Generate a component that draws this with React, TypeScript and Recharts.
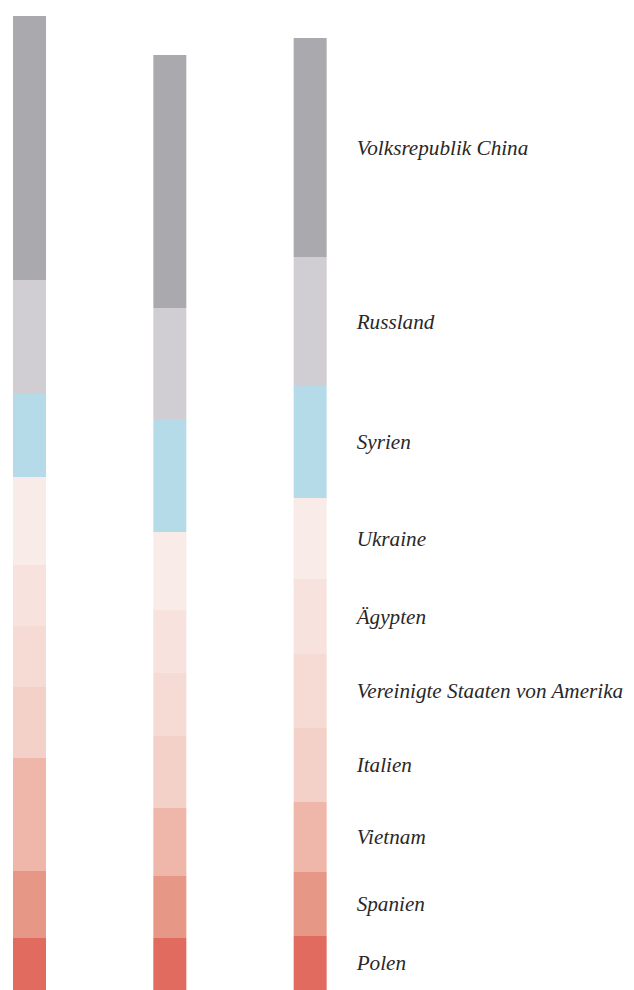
import React from "react";
import { BarChart, Bar, XAxis, YAxis, LabelList } from "recharts";

// stacked from bottom (Polen) to top (Volksrepublik China)
const GROUPS = ["Balken 1", "Balken 2", "Balken 3"];

const COUNTRIES = [
  "Polen",
  "Spanien",
  "Vietnam",
  "Italien",
  "Vereinigte Staaten von Amerika",
  "Ägypten",
  "Ukraine",
  "Syrien",
  "Russland",
  "Volksrepublik China",
];

const POLEN = [52, 52, 54];
const SPANIEN = [67, 62, 64];
const VIETNAM = [113, 68, 70];
const ITALIEN = [71, 72, 74];
const USA = [61, 63, 74];
const AEGYPTEN = [61, 63, 75];
const UKRAINE = [88, 78, 81];
const SYRIEN = [83, 113, 112];
const RUSSLAND = [114, 111, 129];
const CHINA = [264, 253, 219];

const SERIES = [POLEN, SPANIEN, VIETNAM, ITALIEN, USA, AEGYPTEN, UKRAINE, SYRIEN, RUSSLAND, CHINA];

const COLORS = [
  "#e06b5e",
  "#e79786",
  "#eeb7aa",
  "#f3d1c8",
  "#f6dbd5",
  "#f7e2de",
  "#f9ebe7",
  "#b5dbe8",
  "#d0ced3",
  "#aaa9ae",
];

const data = GROUPS.map((g, i) => {
  const row: Record<string, string | number> = { group: g };
  COUNTRIES.forEach((c, k) => {
    row[c] = SERIES[k][i];
  });
  return row;
});

const TOTAL_MAX = Math.max(...GROUPS.map((_, i) => SERIES.reduce((s, arr) => s + arr[i], 0)));

// label only next to the last bar, centred on its segment
function sideLabel(name: string, lastIndex: number) {
  return (props: any) => {
    const { x, y, width, height, index } = props;
    if (index !== lastIndex) return null;
    return (
      <text
        x={Number(x) + Number(width) + 30}
        y={Number(y) + Number(height) / 2}
        dominantBaseline="central"
        textAnchor="start"
        fontFamily="'Liberation Serif', 'Times New Roman', serif"
        fontStyle="italic"
        fontSize={21.2}
        fill="#2a2728"
      >
        {name}
      </text>
    );
  };
}

export default function App() {
  return (
    <BarChart
      width={626}
      height={990}
      data={data}
      margin={{ top: 8, right: 254, left: -49, bottom: 8 }}
      barSize={33}
    >
      <XAxis dataKey="group" hide />
      <YAxis hide type="number" domain={[0, TOTAL_MAX]} allowDataOverflow />
      {COUNTRIES.map((c, k) => (
        <Bar key={c} dataKey={c} stackId="a" fill={COLORS[k]} isAnimationActive={false}>
          <LabelList dataKey={c} content={sideLabel(c, GROUPS.length - 1)} />
        </Bar>
      ))}
    </BarChart>
  );
}
